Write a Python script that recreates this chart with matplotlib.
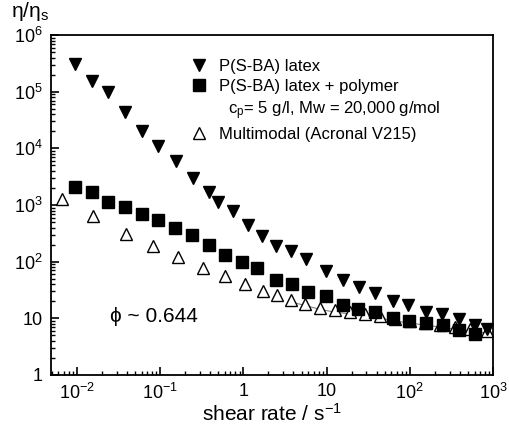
import numpy as np
import matplotlib
matplotlib.use('Agg')
import matplotlib.pyplot as plt
from matplotlib.lines import Line2D
from matplotlib.ticker import FixedLocator, FixedFormatter, LogLocator, NullFormatter

plt.rcParams['font.family'] = ['Liberation Sans', 'DejaVu Sans']
plt.rcParams['mathtext.fontset'] = 'custom'
plt.rcParams['mathtext.rm'] = 'Liberation Sans'
plt.rcParams['mathtext.it'] = 'Liberation Sans:italic'

#%% data (log10 values)
latex_logx = [-2.02, -1.82, -1.63, -1.42, -1.22, -1.03, -0.81, -0.61, -0.41, -0.31,
              -0.13, 0.06, 0.22, 0.39, 0.57, 0.75, 0.99, 1.20, 1.39, 1.58,
              1.80, 1.98, 2.20, 2.39, 2.59, 2.78, 2.93]
latex_logy = [5.49, 5.19, 5.00, 4.65, 4.30, 4.04, 3.77, 3.47, 3.23, 3.05,
              2.89, 2.65, 2.46, 2.28, 2.18, 2.04, 1.84, 1.68, 1.56, 1.44,
              1.30, 1.23, 1.12, 1.07, 0.98, 0.88, 0.81]

poly_logx = [-2.02, -1.82, -1.63, -1.42, -1.22, -1.03, -0.82, -0.62, -0.41, -0.22,
             -0.02, 0.17, 0.39, 0.59, 0.78, 0.99, 1.20, 1.38, 1.58, 1.80,
             1.99, 2.20, 2.40, 2.59, 2.78]
poly_logy = [3.32, 3.23, 3.05, 2.96, 2.84, 2.74, 2.60, 2.47, 2.30, 2.12,
             2.00, 1.88, 1.67, 1.61, 1.47, 1.40, 1.23, 1.16, 1.12, 1.00,
             0.95, 0.91, 0.88, 0.79, 0.72]

multi_logx = [-2.18, -1.81, -1.41, -1.09, -0.79, -0.49, -0.22, 0.02, 0.24, 0.40,
              0.57, 0.74, 0.92, 1.10, 1.28, 1.46, 1.64, 1.82, 2.00, 2.18,
              2.36, 2.54, 2.72, 2.93]
multi_logy = [3.10, 2.80, 2.49, 2.28, 2.09, 1.89, 1.74, 1.60, 1.49, 1.42,
              1.32, 1.26, 1.19, 1.14, 1.11, 1.07, 1.04, 0.98, 0.95, 0.91,
              0.88, 0.84, 0.81, 0.77]

latex_x = 10 ** np.array(latex_logx)
latex_y = 10 ** np.array(latex_logy)
poly_x = 10 ** np.array(poly_logx)
poly_y = 10 ** np.array(poly_logy)
multi_x = 10 ** np.array(multi_logx)
multi_y = 10 ** np.array(multi_logy)

#%% plot
fig = plt.figure(figsize=(5.09, 4.29), dpi=100)
ax = fig.add_axes([0.100, 0.126, 0.8686, 0.792])

ax.plot(multi_x[10:], multi_y[10:] * 0.93, color='grey', lw=0.8, zorder=1)
ax.plot(latex_x, latex_y, 'v', color='black', ms=9, ls='none', zorder=3)
ax.plot(poly_x, poly_y, 's', color='black', ms=8, ls='none', zorder=3)
ax.plot(multi_x, multi_y, '^', mfc='white', mec='black', mew=1.0, ms=9, ls='none', zorder=2)

ax.set_xscale('log')
ax.set_yscale('log')
ax.set_xlim(0.00487, 1000)
ax.set_ylim(1, 1e6)

xt = [1e-2, 1e-1, 1, 10, 1e2, 1e3]
xtl = ['10$^{-2}$', '10$^{-1}$', '1', '10', '10$^{2}$', '10$^{3}$']
yt = [1, 10, 1e2, 1e3, 1e4, 1e5, 1e6]
ytl = ['1', '10', '10$^{2}$', '10$^{3}$', '10$^{4}$', '10$^{5}$', '10$^{6}$']
ax.xaxis.set_major_locator(FixedLocator(xt))
ax.xaxis.set_major_formatter(FixedFormatter(xtl))
ax.yaxis.set_major_locator(FixedLocator(yt))
ax.yaxis.set_major_formatter(FixedFormatter(ytl))
ax.xaxis.set_minor_locator(LogLocator(base=10, subs=np.arange(2, 10)))
ax.yaxis.set_minor_locator(LogLocator(base=10, subs=np.arange(2, 10)))
ax.xaxis.set_minor_formatter(NullFormatter())
ax.yaxis.set_minor_formatter(NullFormatter())

ax.tick_params(which='both', direction='in', top=False, right=False, labelsize=13)
ax.tick_params(which='major', length=6, width=1.2, pad=6)
ax.tick_params(which='minor', length=3, width=1.0)
for s in ax.spines.values():
    s.set_linewidth(1.3)

ax.set_xlabel('shear rate / s$^{-1}$', fontsize=15, labelpad=0)
fig.text(0.022, 0.946, 'η/η$_\\mathregular{s}$', fontsize=15, ha='left', va='bottom')
ax.text(0.133, 0.155, 'ϕ ~ 0.644', transform=ax.transAxes, fontsize=15)

handles = [Line2D([], [], marker='v', color='black', ls='none', ms=9),
           Line2D([], [], marker='s', color='black', ls='none', ms=8),
           Line2D([], [], ls='none'),
           Line2D([], [], marker='^', mfc='white', mec='black', ls='none', ms=9)]
labels = ['P(S-BA) latex', 'P(S-BA) latex + polymer',
          '  c$_\\mathregular{p}$= 5 g/l, Mw = 20,000 g/mol', 'Multimodal (Acronal V215)']
ax.legend(handles, labels, loc='upper left', bbox_to_anchor=(0.279, 0.975),
          frameon=False, fontsize=12, handletextpad=0.6, labelspacing=0.32,
          handlelength=1.2)

fig.savefig('out.png', dpi=100)
